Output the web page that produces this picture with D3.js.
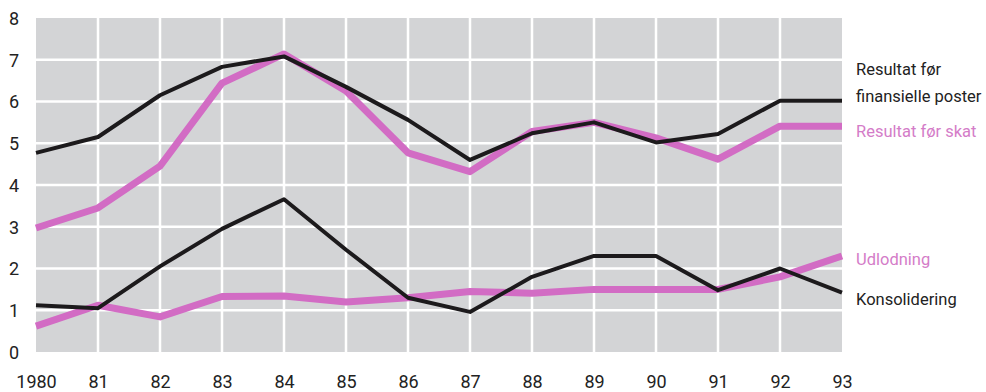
<!DOCTYPE html>
<html><head><meta charset="utf-8">
<script src="https://cdn.jsdelivr.net/npm/d3@7"></script>
<style>body{margin:0;background:#fff}svg{display:block}</style>
</head><body>
<svg id="c" width="986" height="392"></svg>
<script>
const years = [1980,1981,1982,1983,1984,1985,1986,1987,1988,1989,1990,1991,1992,1993];
const xTickLabels = ["1980","81","82","83","84","85","86","87","88","89","90","91","92","93"];
const yTicks = [0,1,2,3,4,5,6,7,8];
const resultatFinans = [4.77,5.15,6.15,6.83,7.08,6.35,5.56,4.6,5.24,5.5,5.02,5.22,6.02,6.02];
const resultatSkat   = [2.97,3.45,4.45,6.44,7.14,6.25,4.77,4.32,5.28,5.5,5.13,4.62,5.41,5.41];
const udlodning      = [0.62,1.12,0.84,1.33,1.34,1.2,1.3,1.45,1.41,1.5,1.5,1.5,1.8,2.3];
const konsolidering  = [1.12,1.05,2.05,2.95,3.66,2.45,1.3,0.96,1.8,2.3,2.3,1.48,2.0,1.42];
const series = [
  {name:"udlodning", values:udlodning, color:"#d26cc4", width:7},
  {name:"skat", values:resultatSkat, color:"#d26cc4", width:7},
  {name:"konsolidering", values:konsolidering, color:"#1c1a1c", width:4},
  {name:"finans", values:resultatFinans, color:"#1c1a1c", width:4}
];
const labels = [
  {lines:["Resultat før","finansielle poster"], y:[75,102], color:"#222"},
  {lines:["Resultat før skat"], y:[137], color:"#d47cc8"},
  {lines:["Udlodning"], y:[265], color:"#d47cc8"},
  {lines:["Konsolidering"], y:[305], color:"#222"}
];

const svg = d3.select("#c");
const x = d3.scaleLinear().domain([1980,1993]).range([36,842]);
const y = d3.scaleLinear().domain([0,8]).range([352,18]);
const font = "Roboto, 'Open Sans', sans-serif";

svg.append("rect").attr("x",x(1980)).attr("y",y(8)).attr("width",x(1993)-x(1980)).attr("height",y(0)-y(8)).attr("fill","#d3d4d6");

const g = svg.append("g");
g.selectAll(".vg").data(years.slice(1,-1)).join("line")
  .attr("x1",d=>x(d)).attr("x2",d=>x(d)).attr("y1",y(8)).attr("y2",y(0))
  .attr("stroke","#fff").attr("stroke-width",2.5);
g.selectAll(".hg").data(yTicks.slice(1,-1)).join("line")
  .attr("x1",x(1980)).attr("x2",x(1993)).attr("y1",d=>y(d)).attr("y2",d=>y(d))
  .attr("stroke","#fff").attr("stroke-width",2.5);

const line = d3.line().x((d,i)=>x(years[i])).y(d=>y(d));
svg.selectAll(".s").data(series).join("path")
  .attr("d",d=>line(d.values)).attr("fill","none")
  .attr("stroke",d=>d.color).attr("stroke-width",d=>d.width)
  .attr("stroke-linejoin","round");

// axes
const xAxis = d3.axisBottom(x).tickValues(years).tickFormat((d,i)=>xTickLabels[i]).tickSize(0).tickPadding(0);
const ax = svg.append("g").attr("transform","translate(0,388)").call(xAxis);
ax.select(".domain").remove();
ax.selectAll("text").attr("dy",0).attr("font-family",font).attr("font-size",18).attr("fill","#222");

const yAxis = d3.axisLeft(y).tickValues(yTicks).tickSize(0).tickPadding(0);
const ay = svg.append("g").attr("transform","translate(14,0)").call(yAxis);
ay.select(".domain").remove();
ay.selectAll("text").attr("text-anchor","middle").attr("x",0).attr("dy","0.35em").attr("font-family",font).attr("font-size",18).attr("fill","#222");

labels.forEach(l=>{
  l.lines.forEach((t,i)=>{
    svg.append("text").attr("x",856).attr("y",l.y[i]).text(t)
      .attr("font-family",font).attr("font-size",16.5).attr("fill",l.color);
  });
});
</script>
</body></html>
